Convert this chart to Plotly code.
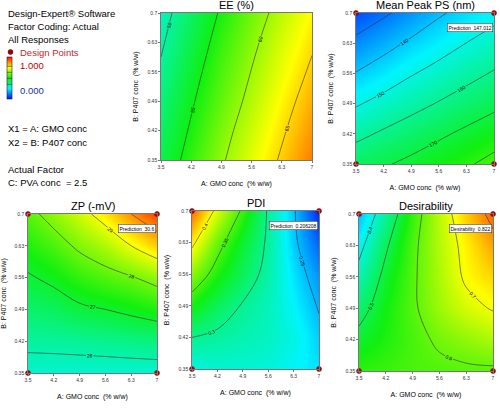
import plotly.graph_objects as go

# ---------------- data ----------------
x_ticks = [3.5, 4.2, 4.9, 5.6, 6.3, 7.0]
y_ticks = [0.35, 0.42, 0.49, 0.56, 0.63, 0.70]
x_tick_labels = ["3.5", "4.2", "4.9", "5.6", "6.3", "7"]
y_tick_labels = ["0.35", "0.42", "0.49", "0.56", "0.63", "0.7"]

# response surfaces (rows: y from 0.35 up to 0.70)
ee_z = [
    [52.8, 56.2, 59.6, 62.6, 65.4, 68.2],
    [52.0, 55.4, 58.8, 61.8, 64.6, 67.3],
    [51.2, 54.6, 57.9, 60.9, 63.8, 66.4],
    [50.4, 53.8, 57.1, 60.1, 62.9, 65.5],
    [49.6, 52.9, 56.3, 59.3, 62.1, 64.6],
    [48.8, 52.1, 55.4, 58.4, 61.2, 63.7],
]
ps_z = [
    [166.0, 169.0, 172.2, 175.5, 178.8, 183.0],
    [157.6, 161.3, 164.8, 168.4, 171.9, 175.3],
    [149.0, 153.1, 156.9, 160.6, 164.3, 167.8],
    [140.4, 144.6, 149.3, 153.2, 157.0, 160.8],
    [132.2, 136.9, 141.5, 145.8, 150.1, 154.0],
    [124.0, 128.6, 133.6, 138.8, 143.0, 147.0],
]
zp_z = [
    [25.75, 25.75, 25.74, 25.73, 25.72, 25.70],
    [26.14, 26.16, 26.20, 26.25, 26.32, 26.41],
    [26.54, 26.66, 26.88, 27.00, 27.17, 27.35],
    [26.93, 27.15, 27.50, 27.74, 27.95, 28.25],
    [27.36, 27.70, 28.13, 28.47, 29.00, 29.50],
    [27.80, 28.26, 28.75, 29.30, 30.00, 30.60],
]
pdi_z = [
    [0.275, 0.280, 0.280, 0.278, 0.270, 0.262],
    [0.300, 0.295, 0.290, 0.285, 0.275, 0.256],
    [0.335, 0.314, 0.298, 0.287, 0.268, 0.248],
    [0.370, 0.339, 0.314, 0.292, 0.262, 0.238],
    [0.406, 0.360, 0.325, 0.296, 0.255, 0.224],
    [0.445, 0.392, 0.345, 0.297, 0.253, 0.206],
]
des_z = [
    [0.560, 0.570, 0.580, 0.585, 0.590, 0.590],
    [0.520, 0.550, 0.580, 0.610, 0.630, 0.650],
    [0.473, 0.540, 0.590, 0.640, 0.680, 0.705],
    [0.425, 0.520, 0.590, 0.650, 0.710, 0.740],
    [0.378, 0.490, 0.585, 0.656, 0.720, 0.776],
    [0.330, 0.444, 0.568, 0.660, 0.746, 0.822],
]

design_x = [3.5, 3.5, 7.0, 7.0]
design_y = [0.35, 0.70, 0.35, 0.70]

titles = ["EE (%)", "Mean Peak PS (nm)", "ZP (-mV)", "PDI", "Desirability"]
flag_texts = [None, "Prediction  147.012", "Prediction  30.6", "Prediction  0.206208", "Desirability  0.822"]
contour_levels = [(50, 65, 5), (130, 180, 10), (26, 30, 1), (0.25, 0.4, 0.05), (0.4, 0.8, 0.1)]
color_ranges = [(38, 72), (116, 236), (23.5, 31.0), (0.20, 0.47), (0.20, 0.88)]
surfaces = [ee_z, ps_z, zp_z, pdi_z, des_z]
show_points = [False, True, True, True, True]

# ---------------- layout geometry ----------------
W, H = 500, 408
# pixel boxes (left, right, top, bottom)
boxes = [
    (161, 312, 13, 160),
    (356, 494, 13, 164),
    (28, 157, 214, 373),
    (192, 319, 211, 369),
    (359, 493, 214, 371),
]

colorscale = [[0.0, "#0010ff"], [0.25, "#00f4ff"], [0.5, "#10f010"],
              [0.75, "#ffff00"], [1.0, "#ff1000"]]

FONT = "Liberation Sans, Arial, sans-serif"
fig = go.Figure()
layout = dict(width=W, height=H, margin=dict(l=0, r=0, t=0, b=0, autoexpand=False),
              paper_bgcolor="white", plot_bgcolor="white", showlegend=False,
              font=dict(family=FONT, color="black"))
annotations = []
shapes = []

for i in range(5):
    n = "" if i == 0 else str(i + 1)
    xa, ya = "x" + n, "y" + n
    l, r, t, b = boxes[i]
    s0, s1, ss = contour_levels[i]
    zmin, zmax = color_ranges[i]
    trace = go.Contour(
        x=x_ticks, y=y_ticks, z=surfaces[i],
        xaxis=xa, yaxis=ya,
        colorscale=colorscale, zmin=zmin, zmax=zmax,
        contours=dict(start=s0, end=s1, size=ss, coloring="heatmap",
                      showlabels=True,
                      labelfont=dict(size=5, color="black", family=FONT)),
        line=dict(color="#333333", width=0.6, smoothing=1.0),
        showscale=(i == 0),
        hoverinfo="skip",
    )
    if i == 0:
        trace.update(colorbar=dict(
            x=7 / W, xanchor="left", xref="paper",
            y=1 - 57 / H, yanchor="top", yref="paper",
            len=42 / H, lenmode="fraction", thickness=5,
            xpad=0, ypad=0, outlinewidth=0.6, outlinecolor="#222",
            showticklabels=False, ticks=""))
    fig.add_trace(trace)
    if show_points[i]:
        fig.add_trace(go.Scatter(
            x=design_x, y=design_y, xaxis=xa, yaxis=ya, mode="markers",
            marker=dict(color="#c00000", size=5, line=dict(color="#600000", width=0.5)),
            cliponaxis=False, hoverinfo="skip"))
    axis_common = dict(showline=True, linecolor="#777777", linewidth=0.6, mirror=True,
                       ticks="outside", ticklen=2, tickcolor="#777777", tickwidth=0.6,
                       showgrid=False, zeroline=False, automargin=False,
                       tickfont=dict(size=5, family=FONT, color="#333"))
    layout["xaxis" + n] = dict(
        axis_common, domain=[l / W, r / W], anchor=ya, range=[3.5, 7],
        tickvals=x_ticks, ticktext=x_tick_labels,
        title=dict(text="A: GMO conc  (% w/w)", font=dict(size=7, family=FONT), standoff=12))
    layout["yaxis" + n] = dict(
        axis_common, domain=[1 - b / H, 1 - t / H], anchor=xa, range=[0.35, 0.7],
        tickvals=y_ticks, ticktext=y_tick_labels,
        title=dict(text="B: P407 conc  (% w/w)", font=dict(size=7, family=FONT), standoff=8))
    annotations.append(dict(
        text=titles[i], xref="paper", yref="paper", x=(l + r) / 2 / W, y=1 - t / H,
        xanchor="center", yanchor="bottom", yshift=0, showarrow=False,
        font=dict(size=11, family=FONT, color="black")))
    if flag_texts[i]:
        annotations.append(dict(
            text=flag_texts[i], xref=xa, yref=ya, x=7, y=0.7, xanchor="right", yanchor="top",
            xshift=-1, yshift=-10, showarrow=False, bgcolor="white", bordercolor="#222",
            borderwidth=0.5, borderpad=1, font=dict(size=5, family=FONT, color="black")))

# left information block
info_lines = [
    ("Design-Expert® Software", 13, 6, "black"),
    ("Factor Coding: Actual", 26, 6, "black"),
    ("All Responses", 39, 6, "black"),
    ("Design Points", 52, 18, "#c0282d"),
    ("1.000", 65, 18, "#c00000"),
    ("0.000", 90, 18, "#2030b0"),
    ("X1 = A: GMO conc", 128, 6, "black"),
    ("X2 = B: P407 conc", 142, 6, "black"),
    ("Actual Factor", 169, 6, "black"),
    ("C: PVA conc  = 2.5", 182, 6, "black"),
]
for txt, py, px, col in info_lines:
    annotations.append(dict(
        text=txt, xref="paper", yref="paper", x=px / W, y=1 - py / H,
        xanchor="left", yanchor="middle", showarrow=False,
        font=dict(size=9.5, family=FONT, color=col)))
shapes.append(dict(type="circle", xref="paper", yref="paper",
                   x0=8 / W, x1=13 / W, y0=1 - 54.5 / H, y1=1 - 49.5 / H,
                   fillcolor="#a00000", line=dict(color="#600000", width=0.5)))

layout["annotations"] = annotations
layout["shapes"] = shapes
fig.update_layout(**layout)
fig.write_html("out.html", config={"displayModeBar": False},
               post_script="document.body.style.margin='0px';document.body.style.padding='0px';")
